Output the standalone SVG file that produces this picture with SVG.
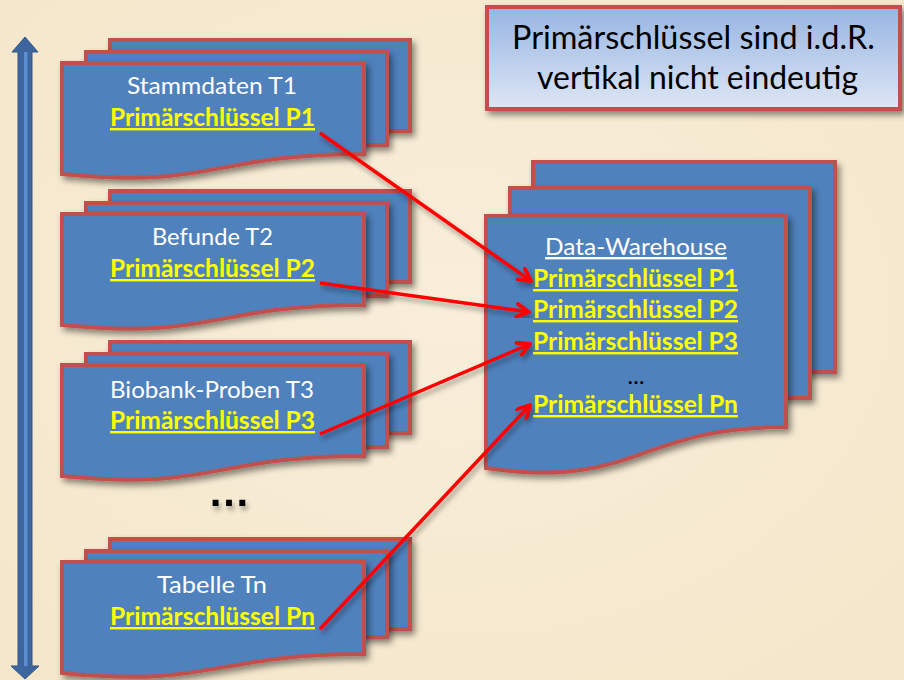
<svg xmlns="http://www.w3.org/2000/svg" width="904" height="680" viewBox="0 0 904 680">
  <defs>
    <radialGradient id="bg" cx="50%" cy="45%" r="75%">
      <stop offset="0" stop-color="#F8EEDA"/>
      <stop offset="1" stop-color="#F4E6C9"/>
    </radialGradient>
    <linearGradient id="noteFill" x1="0" y1="0" x2="0" y2="1">
      <stop offset="0" stop-color="#97B5E2"/>
      <stop offset="1" stop-color="#DEE6F4"/>
    </linearGradient>
    <filter id="sh" x="-10%" y="-10%" width="130%" height="140%">
      <feDropShadow dx="3" dy="4" stdDeviation="3" flood-color="#000" flood-opacity="0.45"/>
    </filter>
    <filter id="lsh" x="-20%" y="-20%" width="140%" height="140%">
      <feDropShadow dx="2" dy="4" stdDeviation="2.5" flood-color="#000" flood-opacity="0.35"/>
    </filter>
    <marker id="ah" viewBox="0 0 16 16" markerWidth="16" markerHeight="16" refX="14" refY="8" orient="auto" markerUnits="userSpaceOnUse">
      <path d="M2,1.5 L14,8 L2,14.5" fill="none" stroke="#FF0000" stroke-width="3.8" stroke-linecap="round" stroke-linejoin="round"/>
    </marker>
    <style>
      .sheet { fill: #4F81BD; stroke: #C0504D; stroke-width: 4; filter: url(#sh); }
      .ttl { font-family: Lato, "Open Sans", "Liberation Sans", sans-serif; font-size: 24px; fill: #FFFFFF; text-anchor: middle; }
      .key { font-family: Lato, "Open Sans", "Liberation Sans", sans-serif; font-size: 24px; font-weight: bold; fill: #FFFF00; text-anchor: middle; text-decoration: underline; }
      .note { font-family: Lato, "Open Sans", "Liberation Sans", sans-serif; font-size: 32px; fill: #000000; text-anchor: middle; }
      .conn { fill: none; stroke: #FF0000; stroke-width: 3.5; marker-end: url(#ah); filter: url(#lsh); }
    </style>
  </defs>

  <rect x="0" y="0" width="904" height="680" fill="url(#bg)"/>

  <g id="axis">
    <polygon points="25,37 38,52 32,52 32,666 39,666 25,679 11,666 18,666 18,52 12,52" fill="#3D659E" stroke="#34598C" stroke-width="1"/>
    <rect x="24" y="52" width="3.5" height="614" fill="#5D8ED2"/>
  </g>

  <g id="note">
    <rect x="487" y="7" width="413" height="102" fill="url(#noteFill)" stroke="#C0504D" stroke-width="4" filter="url(#sh)"/>
    <text class="note" x="693.5" y="49" textLength="363" lengthAdjust="spacingAndGlyphs">Primärschlüssel sind i.d.R.</text>
    <text class="note" x="697.5" y="89" textLength="321" lengthAdjust="spacingAndGlyphs">vertikal nicht eindeutig</text>
  </g>

  <g id="t1">
    <rect class="sheet" x="110" y="40" width="300" height="91"/>
    <rect class="sheet" x="86" y="52" width="301" height="93"/>
    <path class="sheet" d="M62,63 L364,63 L364,154 C213,154 213,189 62,174 Z"/>
    <text class="ttl" x="212" y="94" textLength="170" lengthAdjust="spacingAndGlyphs">Stammdaten T1</text>
    <text class="key" x="212.5" y="126" textLength="205" lengthAdjust="spacingAndGlyphs">Primärschlüssel P1</text>
  </g>

  <g id="t2">
    <rect class="sheet" x="110" y="191" width="300" height="91"/>
    <rect class="sheet" x="86" y="203" width="301" height="93"/>
    <path class="sheet" d="M62,214 L364,214 L364,305 C213,305 213,340 62,325 Z"/>
    <text class="ttl" x="212.5" y="245" textLength="121" lengthAdjust="spacingAndGlyphs">Befunde T2</text>
    <text class="key" x="212.5" y="277" textLength="205" lengthAdjust="spacingAndGlyphs">Primärschlüssel P2</text>
  </g>

  <g id="t3">
    <rect class="sheet" x="110" y="342" width="300" height="91"/>
    <rect class="sheet" x="86" y="354" width="301" height="93"/>
    <path class="sheet" d="M62,365 L364,365 L364,456 C213,456 213,491 62,476 Z"/>
    <text class="ttl" x="212" y="398" textLength="204" lengthAdjust="spacingAndGlyphs">Biobank-Proben T3</text>
    <text class="key" x="212.5" y="429" textLength="205" lengthAdjust="spacingAndGlyphs">Primärschlüssel P3</text>
  </g>

  <g id="ellipsis-left">
    <text x="229" y="506" font-family="Liberation Sans, Arial, sans-serif" font-size="42" font-weight="bold" fill="#000" text-anchor="middle" filter="url(#lsh)">…</text>
  </g>

  <g id="tn">
    <rect class="sheet" x="110" y="539" width="300" height="90"/>
    <rect class="sheet" x="86" y="551" width="301" height="86"/>
    <path class="sheet" d="M62,562 L364,562 L364,654 C213,654 213,688 62,673 Z"/>
    <text class="ttl" x="212" y="593" textLength="110" lengthAdjust="spacingAndGlyphs">Tabelle Tn</text>
    <text class="key" x="212.5" y="625" textLength="205" lengthAdjust="spacingAndGlyphs">Primärschlüssel Pn</text>
  </g>

  <g id="dw">
    <rect class="sheet" x="533" y="162" width="302" height="210"/>
    <rect class="sheet" x="510" y="188" width="300" height="210"/>
    <path class="sheet" d="M486,216 L786,216 L786,427 C636,427 636,490 486,468 Z"/>
    <text class="ttl" x="636" y="255" textLength="182" lengthAdjust="spacingAndGlyphs" style="text-decoration: underline;">Data-Warehouse</text>
    <text class="key" x="635.5" y="287" textLength="205" lengthAdjust="spacingAndGlyphs">Primärschlüssel P1</text>
    <text class="key" x="635.5" y="318" textLength="205" lengthAdjust="spacingAndGlyphs">Primärschlüssel P2</text>
    <text class="key" x="635.5" y="350" textLength="205" lengthAdjust="spacingAndGlyphs">Primärschlüssel P3</text>
    <text x="636" y="384" font-family="Liberation Sans, Arial, sans-serif" font-size="18" font-weight="bold" fill="#000" text-anchor="middle">…</text>
    <text class="key" x="635.5" y="413" textLength="205" lengthAdjust="spacingAndGlyphs">Primärschlüssel Pn</text>
  </g>

  <g id="connectors">
    <line class="conn" x1="320" y1="133" x2="531" y2="281"/>
    <line class="conn" x1="320" y1="283" x2="529" y2="312"/>
    <line class="conn" x1="320" y1="434" x2="530" y2="344"/>
    <line class="conn" x1="320" y1="629" x2="530" y2="405"/>
  </g>
</svg>
